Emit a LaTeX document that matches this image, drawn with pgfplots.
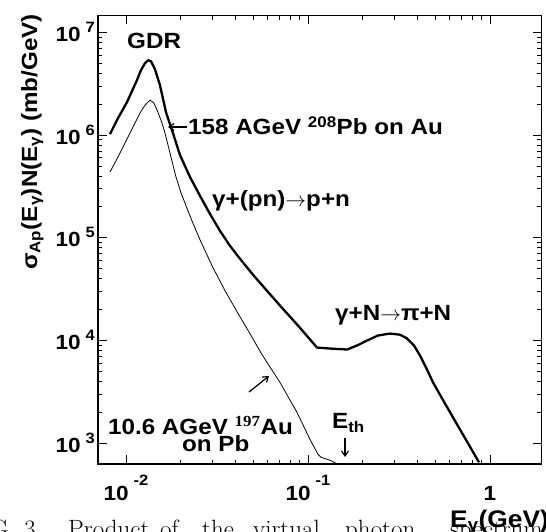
\documentclass[border=0pt]{standalone}
\usepackage{pgfplots}
\pgfplotsset{compat=1.18}
\usepackage{fontspec}
\usetikzlibrary{arrows.meta}
\newfontfamily\hv{Liberation Sans}[FakeStretch=1.1, UprightFont=* Bold]
\newfontfamily\hvserif{Liberation Serif}[FakeStretch=1.1, UprightFont=* Bold]
\newcommand{\lf}{\hv\fontsize{22}{24}\selectfont}
\newcommand{\tf}{\hv\fontsize{20.5}{22}\selectfont}
\newcommand{\xt}[1]{10\hspace{5pt}\raisebox{15pt}{\hv\fontsize{15}{15}\selectfont #1}}
\newcommand{\yt}[1]{10\hspace{5pt}\raisebox{9pt}{\hv\fontsize{15}{15}\selectfont #1}}
\tikzset{annarrow/.style={line width=1.2pt, -{Straight Barb[length=5pt,width=7pt,line width=1.2pt]}}}
\begin{document}
\begin{tikzpicture}
\useasboundingbox (0pt,0pt) rectangle (546pt,531pt);
\begin{axis}[
  at={(98pt,67pt)}, anchor=south west,
  scale only axis, width=443.7pt, height=448.5pt,
  xmode=log, ymode=log,
  xmin=0.00702, xmax=1.923, ymin=629, ymax=1.457e7,
  axis line style={line width=1.4pt},
  tick style={line width=0.8pt, black},
  major tick length=9pt, minor tick length=4.5pt,
  tick align=inside,
  xtick={0.01,0.1,1},
  xticklabels={\xt{-2},\xt{-1},1},
  ytick={1e3,1e4,1e5,1e6,1e7},
  yticklabels={\yt{3},\yt{4},\yt{5},\yt{6},\yt{7}},
  xticklabel style={anchor=base, yshift=-36pt, inner sep=0pt, font=\tf},
  yticklabel style={anchor=base east, yshift=-9pt, xshift=-3pt, inner sep=0pt, font=\tf},
]
% 158 AGeV 208Pb on Au
\addplot[black, line width=2.3pt, line join=round] table {
x y
0.00817 1.02e6
0.00904 1.46e6
0.01013 2.09e6
0.01149 3.42e6
0.01209 4.28e6
0.01272 5.00e6
0.01321 5.35e6
0.01372 5.23e6
0.01443 4.37e6
0.01537 3.06e6
0.01659 1.67e6
0.01789 1.12e6
0.01980 6.40e5
0.02247 3.91e5
0.02551 2.56e5
0.02893 1.71e5
0.03284 1.17e5
0.03727 8.36e4
0.04231 6.25e4
0.04987 4.37e4
0.05878 3.13e4
0.07017 2.19e4
0.08813 1.40e4
0.1121 8.55e3
0.1321 8.36e3
0.1638 8.18e3
0.1858 8.94e3
0.2110 1.00e4
0.2425 1.12e4
0.2822 1.17e4
0.3203 1.14e4
0.3499 1.05e4
0.3823 8.94e3
0.4124 7.15e3
0.4506 5.23e3
0.4863 3.91e3
0.5657 2.44e3
0.6586 1.53e3
0.7570 1.00e3
0.8701 654
};
% 10.6 AGeV 197Au on Pb
\addplot[black, line width=0.8pt, line join=round] table {
x y
0.00817 4.37e5
0.00904 6.11e5
0.00987 8.36e5
0.01093 1.20e6
0.01194 1.64e6
0.01272 1.95e6
0.01355 2.19e6
0.01425 2.05e6
0.01499 1.67e6
0.01577 1.31e6
0.01638 1.05e6
0.01767 6.11e5
0.01883 3.91e5
0.02006 2.74e5
0.02137 2.05e5
0.02305 1.46e5
0.02551 9.57e4
0.02969 5.35e4
0.03499 3.06e4
0.04073 1.91e4
0.04622 1.31e4
0.05588 7.31e3
0.07017 3.91e3
0.08702 2.00e3
0.1026 1.09e3
0.1135 782
0.1179 731
0.1321 684
0.1425 640
};
\end{axis}
% annotations
\node[anchor=base west, inner sep=0pt] at (127pt,482pt) {\lf GDR};
\draw[annarrow] (187pt,404pt) -- (168pt,404pt);
\node[anchor=base west, inner sep=0pt] at (188pt,396pt) {\lf 158 AGeV \textsuperscript{208}Pb on Au};
\node[anchor=base west, inner sep=0pt] at (212pt,324pt) {\lf γ+(pn)$\rightarrow$p+n};
\node[anchor=base west, inner sep=0pt] at (335pt,211pt) {\lf γ+N$\rightarrow$π+N};
\node[anchor=base west, inner sep=0pt] at (108pt,97pt) {\lf 10.6 AGeV \textsuperscript{\hvserif 197}Au};
\node[anchor=base west, inner sep=0pt] at (182pt,80pt) {\lf on Pb};
\draw[annarrow] (249pt,139pt) -- (269pt,155pt);
\node[anchor=base west, inner sep=0pt] at (332pt,103pt) {\lf E\textsubscript{th}};
\draw[annarrow] (345pt,93pt) -- (345pt,74pt);
\node[anchor=base west, inner sep=0pt, rotate=90] at (37pt,261pt) {\lf σ\textsubscript{Ap}(E\textsubscript{γ})N(E\textsubscript{γ}) (mb/GeV)};
% caption remnant
\begin{scope}[every node/.style={anchor=base west, inner sep=0pt, font=\fontsize{25}{27}\selectfont}]
\node[anchor=base east] at (15pt,-6pt) {FIG.};
\node at (24pt,-6pt) {3.};
\node at (68pt,-6pt) {Product};
\node at (160pt,-6pt) {of};
\node at (202pt,-6pt) {the};
\node at (253pt,-6pt) {virtual};
\node at (345pt,-6pt) {photon};
\node at (450pt,-6pt) {spectrum};
\end{scope}
\node[anchor=base west, inner sep=0pt] at (450pt,4pt) {\hv\fontsize{24}{26}\selectfont E\textsubscript{γ}(GeV)};
\end{tikzpicture}
\end{document}
